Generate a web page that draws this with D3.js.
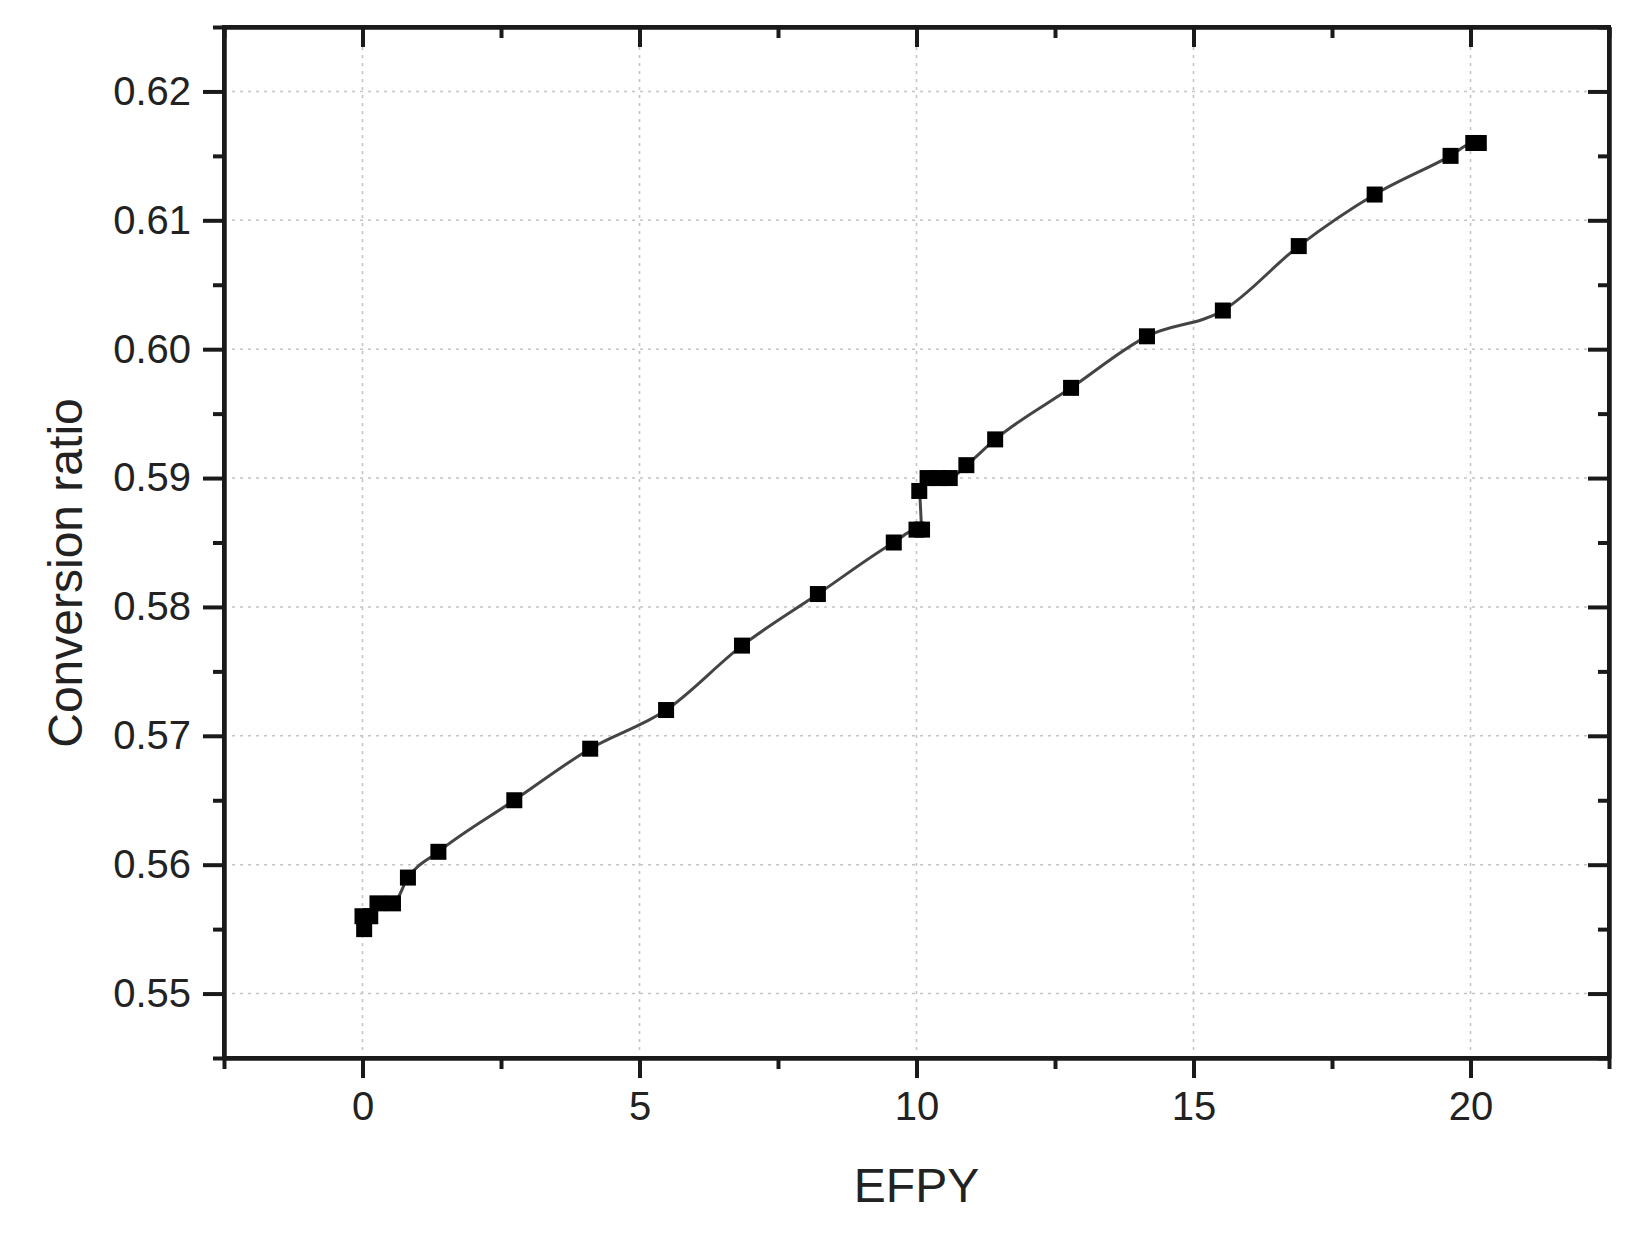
<!DOCTYPE html>
<html>
<head>
<meta charset="utf-8">
<script src="https://cdn.jsdelivr.net/npm/d3@7"></script>
<style>
  html, body { margin: 0; padding: 0; background: #fff; }
  svg { display: block; }
  text { font-family: Arial, "Liberation Sans", sans-serif; fill: #222; }
</style>
</head>
<body>
<svg id="chart" width="1631" height="1244"></svg>
<script>
// Data
const efpy = [0, 0.03, 0.14, 0.27, 0.55, 0.82, 1.37, 2.74, 4.11, 5.48, 6.85, 8.22, 9.59,
              10.0, 10.1, 10.05, 10.2, 10.4, 10.6, 10.9, 11.42, 12.79, 14.16, 15.53,
              16.9, 18.27, 19.64, 20.05, 20.15];
const conversionRatio = [0.556, 0.555, 0.556, 0.557, 0.557, 0.559, 0.561, 0.565, 0.569, 0.572,
              0.577, 0.581, 0.585, 0.586, 0.586, 0.589, 0.590, 0.590, 0.590, 0.591, 0.593,
              0.597, 0.601, 0.603, 0.608, 0.612, 0.615, 0.616, 0.616];
const xTicks = [0, 5, 10, 15, 20];
const xMinorTicks = [-2.5, 2.5, 7.5, 12.5, 17.5, 22.5];
const yTicks = [0.55, 0.56, 0.57, 0.58, 0.59, 0.60, 0.61, 0.62];
const yMinorTicks = [0.545, 0.555, 0.565, 0.575, 0.585, 0.595, 0.605, 0.615, 0.625];
const xDomain = [-2.5, 22.5];
const yDomain = [0.545, 0.625];
const xTitle = "EFPY";
const yTitle = "Conversion ratio";

const svg = d3.select("#chart");
const L = 224, R = 1609, T = 27, B = 1058;
const x = d3.scaleLinear().domain(xDomain).range([L, R]);
const y = d3.scaleLinear().domain(yDomain).range([B, T]);
const points = efpy.map((v, i) => ({x: v, y: conversionRatio[i]}));

// grid
const grid = svg.append("g");
grid.selectAll(".gx").data(xTicks).join("line")
  .attr("x1", d => x(d)).attr("x2", d => x(d)).attr("y1", T + 4).attr("y2", B - 4)
  .attr("stroke", "#c4c4c4").attr("stroke-width", 1.6).attr("stroke-dasharray", "3,5");
grid.selectAll(".gy").data(yTicks).join("line")
  .attr("y1", d => y(d)).attr("y2", d => y(d)).attr("x1", L + 8).attr("x2", R - 8)
  .attr("stroke", "#c4c4c4").attr("stroke-width", 1.6).attr("stroke-dasharray", "3,5");

function styleAxis(g) {
  g.selectAll("path.domain").attr("stroke", "#1a1a1a").attr("stroke-width", 4);
  g.selectAll(".tick line").attr("stroke", "#1a1a1a").attr("stroke-width", 4);
  g.selectAll("text").attr("font-size", 40).attr("fill", "#222")
    .style("font-family", "Arial, 'Liberation Sans', sans-serif");
}

// bottom axis
const gb = svg.append("g").attr("transform", `translate(0,${B})`)
  .call(d3.axisBottom(x).tickValues(xTicks).tickSize(20).tickSizeOuter(0).tickPadding(14).tickFormat(d3.format("d")));
styleAxis(gb);
const gbm = svg.append("g").attr("transform", `translate(0,${B})`)
  .call(d3.axisBottom(x).tickValues(xMinorTicks).tickSize(11).tickSizeOuter(0).tickFormat(""));
styleAxis(gbm);

// top axis (inward)
const gt = svg.append("g").attr("transform", `translate(0,${T})`)
  .call(d3.axisBottom(x).tickValues(xTicks).tickSize(20).tickSizeOuter(0).tickFormat(""));
styleAxis(gt);
const gtm = svg.append("g").attr("transform", `translate(0,${T})`)
  .call(d3.axisBottom(x).tickValues(xMinorTicks).tickSize(11).tickSizeOuter(0).tickFormat(""));
styleAxis(gtm);

// left axis
const gl = svg.append("g").attr("transform", `translate(${L},0)`)
  .call(d3.axisLeft(y).tickValues(yTicks).tickSize(21).tickSizeOuter(0).tickPadding(12).tickFormat(d3.format(".2f")));
styleAxis(gl);
const glm = svg.append("g").attr("transform", `translate(${L},0)`)
  .call(d3.axisLeft(y).tickValues(yMinorTicks).tickSize(11).tickSizeOuter(0).tickFormat(""));
styleAxis(glm);

// right axis (inward)
const gr = svg.append("g").attr("transform", `translate(${R},0)`)
  .call(d3.axisLeft(y).tickValues(yTicks).tickSize(21).tickSizeOuter(0).tickFormat(""));
styleAxis(gr);
const grm = svg.append("g").attr("transform", `translate(${R},0)`)
  .call(d3.axisLeft(y).tickValues(yMinorTicks).tickSize(11).tickSizeOuter(0).tickFormat(""));
styleAxis(grm);

// frame
svg.append("rect").attr("x", L).attr("y", T).attr("width", R - L).attr("height", B - T)
  .attr("fill", "none").attr("stroke", "#1a1a1a").attr("stroke-width", 4);

// line
svg.append("path").datum(points)
  .attr("fill", "none").attr("stroke", "#444").attr("stroke-width", 3)
  .attr("d", d3.line().x(d => x(d.x)).y(d => y(d.y)).curve(d3.curveMonotoneX));

// markers
const s = 16;
svg.append("g").selectAll("rect").data(points).join("rect")
  .attr("x", d => x(d.x) - s / 2).attr("y", d => y(d.y) - s / 2)
  .attr("width", s).attr("height", s).attr("fill", "#000");

// titles
svg.append("text").attr("x", (L + R) / 2).attr("y", 1202)
  .attr("text-anchor", "middle").attr("font-size", 48).text(xTitle);
svg.append("text").attr("transform", `translate(82,573) rotate(-90)`)
  .attr("text-anchor", "middle").attr("font-size", 48).text(yTitle);
</script>
</body>
</html>
